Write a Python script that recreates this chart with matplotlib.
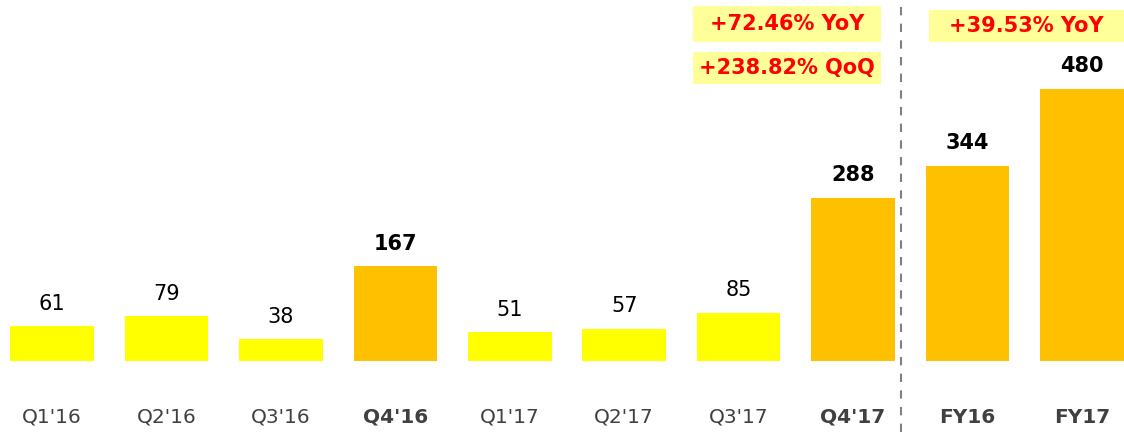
import matplotlib
matplotlib.use("Agg")
import matplotlib.pyplot as plt
from matplotlib.patches import Rectangle

categories = ["Q1'16", "Q2'16", "Q3'16", "Q4'16", "Q1'17", "Q2'17", "Q3'17", "Q4'17", "FY16", "FY17"]
values = [61, 79, 38, 167, 51, 57, 85, 288, 344, 480]
highlight = [False, False, False, True, False, False, False, True, True, True]
annotations = [
    ("+72.46% YoY", 693, 6, 881, 42),
    ("+238.82% QoQ", 693, 52, 881, 84),
    ("+39.53% YoY", 929, 10, 1124, 42),
]

W, H = 1124, 432
fig = plt.figure(figsize=(W / 100, H / 100), dpi=100)
ax = fig.add_axes([0, 0, 1, 1])

yellow = "#FFFF00"
gold = "#FFC000"
colors = [gold if h else yellow for h in highlight]
x = list(range(len(categories)))
ax.bar(x, values, width=0.73, color=colors, zorder=2)

ax.set_xlim(-0.454, 9.367)
ax.set_ylim(-125.2, 636.7)
ax.axis("off")

font = "DejaVu Sans"
for xi, v, h in zip(x, values, highlight):
    ax.annotate(str(v), (xi, v), xytext=(0, 9), textcoords="offset points",
                ha="center", va="bottom", fontsize=15, family=font,
                fontweight="bold" if h else "normal", color="black")

for xi, c, h in zip(x, categories, highlight):
    ax.text(xi, -99, c, ha="center", va="center", fontsize=14.5, family=font,
            fontweight="bold" if h else "normal", color="#404040")

ax.axvline(7.415, color="#808080", linestyle=(0, (4, 4)), linewidth=1.5, zorder=1)

for txt, x0, y0, x1, y1 in annotations:
    fx0, fx1 = x0 / W, x1 / W
    fy0, fy1 = 1 - y1 / H, 1 - y0 / H
    fig.patches.append(Rectangle((fx0, fy0), fx1 - fx0, fy1 - fy0,
                                 transform=fig.transFigure, facecolor="#FFFF99",
                                 edgecolor="none", zorder=0))
    fig.text((fx0 + fx1) / 2, (fy0 + fy1) / 2, txt, ha="center", va="center",
             fontsize=15, fontweight="bold", color="#FF0000", family=font)

fig.savefig("out.png", dpi=100)
